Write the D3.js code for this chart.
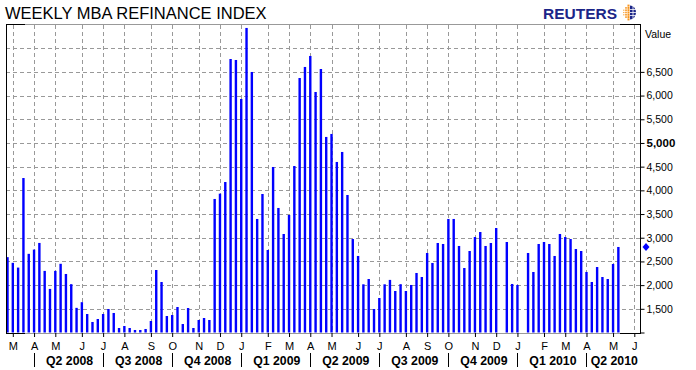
<!DOCTYPE html>
<meta charset="utf-8">
<script src="https://cdn.jsdelivr.net/npm/d3@7"></script>
<style>
body { margin: 0; background: #fff; }
text { font-family: "Liberation Sans", Arial, sans-serif; }
</style>
<body>
<script>

// weekly MBA refinance index, one value per Friday starting at firstWeek (null = no print)
var firstWeek = "2008-02-29";
var lastWeek = "2010-06-04";
var refiValues = [
  2590, 2470, 2370, 4260, 2660, 2750, 2890, 2300, 1920, 2300,
  2450, 2235, 2020, 1520, 1640, 1390, 1222, 1285, 1390, 1496,
  1412, 1095, 1137, 1095, 1053, 1053, 1074, 1243, 2319, 2066,
  1348, 1369, 1538, 1179, 1517, 1095, 1264, 1306, 1264, 3818,
  3930, 4176, 6772, 6751, 5928, 7427, 6498, 3396, 3923, 2741,
  4493, 3628, 3079, 3480, 4514, 6371, 6604, 6836, 6076, 6561,
  5127, 5190, 4599, 4810, 3902, 2973, 2615, 2017, 2129, 1496,
  1728, 2017, 2110, 1876, 2020, 1876, 2003, 2256, 2171, 2678,
  2467, 2889, 2868, 3396, 3396, 2826, 2361, 2720, 3015, 3121,
  2826, 2889, 3205, null, 2910, 2024, 2003, null, 2678, 2277,
  2868, 2910, 2868, 2615, 3079, 3015, 2973, 2762, 2720, 2277,
  2066, 2382, 2171, 2129, 2446, 2805
];
var lastValue = 2805;

var yTicks = [1500, 2000, 2500, 3000, 3500, 4000, 4500, 5000, 5500, 6000, 6500];
var yGrid = [1500, 2000, 2500, 3000, 3500, 4000, 4500, 5000, 5500, 6000, 6500, 7000];
var quarterLabels = ["Q2 2008", "Q3 2008", "Q4 2008", "Q1 2009", "Q2 2009",
                     "Q3 2009", "Q4 2009", "Q1 2010", "Q2 2010"];

var width = 696, height = 370;
var pLeft = 6, pRight = 640, pTop = 24.5, pBottom = 332.5;

var parse = d3.utcParse("%Y-%m-%d");
var weeks = d3.utcFriday.range(parse(firstWeek), d3.utcDay.offset(parse(lastWeek), 1));
var data = refiValues.map(function(v, i) { return {date: weeks[i], value: v}; })
  .filter(function(d) { return d.value !== null; });

// month ticks sit on the first weekly print of each month
var monthTicks = d3.utcMonth.range(parse("2008-03-01"), parse("2010-06-02"))
  .map(function(m) { return d3.utcFriday.ceil(m); });
var quarterTicks = monthTicks.filter(function(d) { return d.getUTCMonth() % 3 === 0; });

var x = d3.scaleUtc()
  .domain([parse(firstWeek), parse(lastWeek)])
  .range([7.5, 634.3]);

var y = d3.scaleLinear()
  .domain([1000, 7500])
  .range([pBottom, pTop]);

var svg = d3.select("body").append("svg")
  .attr("width", width)
  .attr("height", height);

// title
svg.append("text")
  .attr("x", 5).attr("y", 19)
  .style("font-size", "16.5px")
  .text("WEEKLY MBA REFINANCE INDEX");

// reuters logo
svg.append("text")
  .attr("x", 543).attr("y", 18.5)
  .style("font-size", "15.5px").style("font-weight", "bold")
  .attr("fill", "#1b2588")
  .text("REUTERS");
var logo = svg.append("g").attr("transform", "translate(630,12.5)");
logo.append("path")
  .attr("d", "M0,-7 A6,7 0 0,1 0,7 Z")
  .attr("fill", "#1b2588");
[-3, 0, 3].forEach(function(yy) {
  logo.append("line").attr("x1", 0).attr("x2", 6.5).attr("y1", yy).attr("y2", yy)
    .attr("stroke", "#fff").attr("stroke-width", 0.8);
});
logo.append("line").attr("x1", 3).attr("x2", 3).attr("y1", -7).attr("y2", 7)
  .attr("stroke", "#fff").attr("stroke-width", 0.8);
[[-1.5, 2, 3], [-4, 1.6, 2], [-6.2, 1.1, 1]].forEach(function(c) {
  d3.range(-c[2], c[2] + 1).forEach(function(k) {
    logo.append("rect")
      .attr("x", c[0] - c[1] / 2).attr("y", k * 2.3 - c[1] / 2)
      .attr("width", c[1]).attr("height", c[1])
      .attr("fill", "#f7941d");
  });
});

// grid
var grid = svg.append("g").attr("shape-rendering", "crispEdges");
grid.selectAll("line.h").data(yGrid).enter().append("line")
  .attr("class", "h")
  .attr("x1", pLeft).attr("x2", pRight)
  .attr("y1", function(d) { return Math.round(y(d)) + 0.5; })
  .attr("y2", function(d) { return Math.round(y(d)) + 0.5; })
  .attr("stroke", "#999").attr("stroke-dasharray", "4,3");
grid.selectAll("line.v").data(monthTicks).enter().append("line")
  .attr("class", "v")
  .attr("x1", function(d) { return Math.round(x(d)) + 0.5; })
  .attr("x2", function(d) { return Math.round(x(d)) + 0.5; })
  .attr("y1", pTop).attr("y2", pBottom)
  .attr("stroke", "#999").attr("stroke-dasharray", "4,3");

// frame
grid.append("line").attr("x1", pLeft).attr("x2", pRight).attr("y1", pTop).attr("y2", pTop)
  .attr("stroke", "#999");
grid.append("line").attr("x1", pLeft).attr("x2", pRight).attr("y1", pBottom + 0.5).attr("y2", pBottom + 0.5)
  .attr("stroke", "#999");

// bars
svg.append("g")
  .selectAll("rect")
  .data(data)
  .enter().append("rect")
  .attr("x", function(d) { return x(d.date) - 1.2; })
  .attr("width", 2.4)
  .attr("y", function(d) { return y(d.value); })
  .attr("height", function(d) { return y(1000) - y(d.value); })
  .attr("fill", "#0000ff");

var frame = svg.append("g").attr("shape-rendering", "crispEdges").attr("stroke", "#000");
frame.append("line").attr("x1", pLeft + 0.5).attr("x2", pLeft + 0.5).attr("y1", pTop).attr("y2", pBottom + 1);
frame.append("line").attr("x1", pRight + 0.5).attr("x2", pRight + 0.5).attr("y1", pTop).attr("y2", pBottom + 1);
[[pLeft, pLeft + 19], [pRight - 20, pRight + 1]].forEach(function(s) {
  frame.append("line").attr("x1", s[0]).attr("x2", s[1]).attr("y1", pTop).attr("y2", pTop);
  frame.append("line").attr("x1", s[0]).attr("x2", s[1]).attr("y1", pBottom + 0.5).attr("y2", pBottom + 0.5);
});

// bottom month axis
var xAxis = d3.axisBottom(x)
  .tickValues(monthTicks)
  .tickSize(4)
  .tickPadding(5)
  .tickFormat(function(d) { return d3.utcFormat("%b")(d).charAt(0); });
var gx = svg.append("g")
  .attr("transform", "translate(0," + (pBottom + 0.5) + ")")
  .call(xAxis);
gx.select(".domain").remove();
gx.selectAll("text").style("font-size", "11px").attr("fill", "#000")
  .style("font-family", "'Liberation Sans', Arial, sans-serif");

// quarter row
var qEdges = quarterTicks.map(function(d) { return x(d); }).concat([pRight]);
var qg = svg.append("g");
quarterTicks.forEach(function(d, i) {
  var x0 = Math.round(x(d)) + 0.5;
  qg.append("line")
    .attr("x1", x0).attr("x2", x0).attr("y1", 353).attr("y2", 367)
    .attr("stroke", "#000");
  qg.append("text")
    .attr("x", (qEdges[i] + qEdges[i + 1]) / 2 + 1)
    .attr("y", 365)
    .attr("text-anchor", "middle")
    .style("font-size", "12.3px").style("font-weight", "bold")
    .text(quarterLabels[i]);
});

// right value axis
var yAxis = d3.axisRight(y)
  .tickValues([1000].concat(yTicks))
  .tickSize(4)
  .tickPadding(2)
  .tickFormat(function(d) { return d === 1000 ? "" : d3.format(",")(d); });
var gy = svg.append("g")
  .attr("transform", "translate(" + (pRight + 0.5) + ",0)")
  .call(yAxis);
gy.select(".domain").remove();
gy.selectAll("text")
  .attr("fill", "#000")
  .style("font-family", "'Liberation Sans', Arial, sans-serif")
  .style("font-size", function(d) { return d === 5000 ? "11.5px" : "10.5px"; })
  .style("font-weight", function(d) { return d === 5000 ? "bold" : "normal"; });

svg.append("text")
  .attr("x", 645).attr("y", 37.5)
  .style("font-size", "10.5px")
  .text("Value");

// last value marker
var ly = y(lastValue);
svg.append("path")
  .attr("d", "M646," + (ly - 4) + "L649.5," + ly + "L646," + (ly + 4) + "L642.5," + ly + "Z")
  .attr("fill", "#0000ff");

</script>
</body>
